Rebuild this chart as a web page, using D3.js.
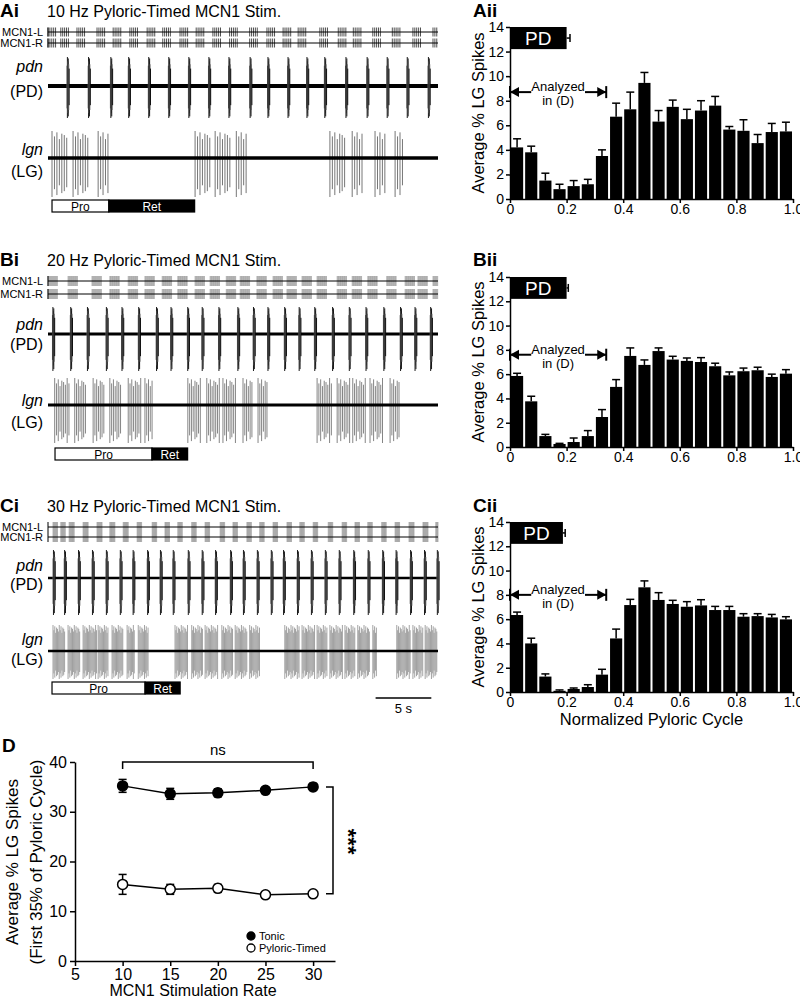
<!DOCTYPE html>
<html lang="en">
<head>
<meta charset="UTF-8">
<title>Pyloric-timed MCN1 stimulation</title>
<script src="https://d3js.org/d3.v7.min.js"></script>
<style>
    body { margin: 0; background: #fff; }
    text { font-family: "Liberation Sans", Arial, sans-serif; fill: #000; }
    .panelLabel { font-size: 19px; font-weight: bold; }
    .title { font-size: 16px; }
    .rowLabel { font-size: 11px; text-anchor: end; }
    .traceLabel { font-size: 16px; text-anchor: end; }
    .axis text { font-size: 16px; font-family: "Liberation Sans", Arial, sans-serif; }
    .hist text { font-size: 14px; }
    .axis path, .axis line { stroke: #000; stroke-width: 1.5; }
</style>
</head>
<body>
<script>
// ---------- histogram data (Aii, Bii, Cii) : 20 bins of normalized pyloric cycle ----------
const binWidth = 0.05;
const histA = [4.2, 3.8, 1.5, 0.8, 1.05, 1.2, 3.5, 6.7, 7.3, 9.45, 6.3, 7.5, 6.5, 7.2, 7.6, 5.65, 5.55, 4.55, 5.45, 5.5];
const errA  = [0.7, 0.5, 0.6, 0.4, 0.45, 0.4, 0.5, 1.1, 1.4, 0.85, 0.9, 0.55, 0.8, 0.8, 0.75, 0.25, 0.9, 0.7, 0.7, 0.75];
const histB = [5.85, 3.76, 0.9, 0.25, 0.41, 0.9, 2.47, 4.95, 7.5, 6.76, 7.9, 7.2, 7.09, 7.0, 6.65, 5.9, 6.24, 6.32, 5.77, 6.04];
const errB  = [0.22, 0.42, 0.14, 0.05, 0.33, 0.45, 0.61, 0.6, 0.66, 0.41, 0.26, 0.27, 0.24, 0.36, 0.25, 0.28, 0.26, 0.25, 0.23, 0.33];
const histC = [6.34, 4.0, 1.27, 0.1, 0.25, 0.41, 1.43, 4.41, 7.16, 8.62, 7.58, 7.25, 7.02, 7.13, 6.75, 6.75, 6.2, 6.25, 6.14, 5.98];
const errC  = [0.24, 0.43, 0.22, 0.07, 0.08, 0.19, 0.44, 0.77, 0.47, 0.53, 0.6, 0.3, 0.42, 0.47, 0.3, 0.3, 0.25, 0.2, 0.25, 0.22];
const pdDuration = [0.2, 0.2, 0.187];
const pdError = [0.012, 0.006, 0.008];
const analyzedEnd = 0.34;
const analyzedLevel = [8.7, 7.6, 8.0];
const histYTicks = [0, 2, 4, 6, 8, 10, 12, 14];
const histXTicks = [0, 0.2, 0.4, 0.6, 0.8, 1.0];

// ---------- panel D data ----------
const rates = [10, 15, 20, 25, 30];
const tonicMean = [35.2, 33.6, 33.8, 34.3, 35.0];
const tonicErr  = [1.3, 1.1, 0.8, 0.5, 0.7];
const timedMean = [15.4, 14.4, 14.6, 13.3, 13.5];
const timedErr  = [2.0, 1.0, 0.8, 0.3, 0.3];
const dXTicks = [5, 10, 15, 20, 25, 30];
const dYTicks = [0, 10, 20, 30, 40];

// ---------- recording traces (times in s) ----------
const stimA = [0.0, 1.15, 2.6, 4.4, 5.85, 7.35, 8.9, 10.3, 11.85, 13.3, 14.8, 16.3, 18.1, 19.65, 21.1, 22.45, 24.4, 26.05, 27.4, 29.15, 30.9, 32.75, 34.55];
const stimB = [0.0, 1.8, 3.95, 5.55, 7.2, 8.7, 10.25, 11.65, 13.2, 14.55, 16.0, 17.25, 18.75, 20.2, 21.45, 22.8, 24.15, 25.95, 27.3, 28.7, 30.4, 32.05, 33.2, 34.55];
const stimC = [0.45, 1.15, 1.9, 3.15, 4.4, 5.55, 6.75, 8.0, 9.35, 10.5, 11.65, 12.9, 14.1, 15.45, 16.6, 17.85, 19.0, 20.2, 21.45, 22.6, 23.8, 25.15, 26.4, 27.55, 28.7, 29.95, 31.15, 32.4, 33.65, 34.8];
const pdnA = [1.7, 3.6, 5.6, 7.2, 9.0, 10.8, 12.6, 14.4, 16.2, 18.1, 19.7, 21.5, 23.2, 24.8, 26.7, 28.6, 30.4, 32.2, 34.1];
const pdnB = [0.4, 2.0, 3.5, 5.2, 6.6, 8.1, 9.7, 11.0, 12.5, 13.8, 15.3, 17.0, 18.4, 19.7, 21.2, 22.5, 23.9, 25.5, 27.0, 28.5, 30.1, 31.6, 32.9, 34.3];
const pdnC = [0.45, 1.45, 2.7, 3.95, 5.2, 6.45, 7.6, 8.9, 10.05, 11.2, 12.55, 13.8, 15.0, 16.35, 17.5, 18.75, 20.0, 21.1, 22.35, 23.6, 24.85, 26.1, 27.4, 28.7, 30.0, 31.2, 32.5, 33.75, 34.9];
const lgA = [[0.36, 1.8], [2.25, 3.6], [4.5, 5.55], [13.2, 14.55], [15.0, 16.35], [16.9, 17.95], [25.3, 26.65], [27.3, 28.3], [29.35, 30.25], [31.15, 31.85]];
const lgB = [[0.6, 2.0], [2.4, 3.5], [4.05, 5.1], [5.55, 6.65], [7.2, 8.45], [8.7, 9.35], [12.55, 13.8], [14.25, 15.45], [15.7, 16.95], [17.5, 18.3], [18.85, 19.75],
             [24.15, 25.5], [25.95, 27.1], [27.35, 28.6], [28.9, 30.05], [30.7, 31.6]];
const lgC = [[0.45, 1.5], [1.8, 2.85], [3.15, 4.4], [4.5, 5.4], [5.75, 6.75], [7.1, 7.8], [8.1, 9.0], [11.4, 12.55], [12.9, 13.9], [14.1, 15.25], [15.6, 16.6], [16.8, 17.85], [18.1, 19.0],
             [21.25, 22.6], [22.8, 23.95], [24.15, 25.1], [25.3, 26.45], [26.65, 27.55], [27.8, 28.9], [29.15, 29.5], [31.3, 32.5], [32.75, 33.65], [33.85, 34.9]];
const pdnSpikeAmp = [0.7, 1.0, 0.85, 0.95, 0.75, 0.6];
const lgSpikeAmp = [1.0, 0.8, 0.95, 0.7, 0.9, 0.85, 0.75];
const proRetA = [0.36, 5.1, 7.7];   // start, Pro duration, Ret duration
const proRetB = [0.63, 8.7, 3.2];
const proRetC = [0.36, 8.35, 3.15];

const width = 800;
const height = 1001;

const svg = d3.select("body").append("svg")
    .attr("width", width)
    .attr("height", height);

const tx = d3.scaleLinear().domain([0, 35]).range([48, 438]);

function traceLabel(y1, y2, top, bottom) {
    svg.append("text").attr("x", 43).attr("y", y1).attr("class", "traceLabel")
        .style("font-style", "italic").text(top);
    svg.append("text").attr("x", 43).attr("y", y2).attr("class", "traceLabel").text(bottom);
}

function drawTraces(p) {
    svg.append("text").attr("x", 0).attr("y", p.titleY).attr("class", "panelLabel").text(p.label);
    svg.append("text").attr("x", 47).attr("y", p.titleY).attr("class", "title").text(p.title);

    // MCN1 stimulation rows
    [["MCN1-L", p.mcnL], ["MCN1-R", p.mcnR]].forEach(([name, y]) => {
        svg.append("text").attr("x", 43).attr("y", y + 4).attr("class", "rowLabel").text(name);
        const g = svg.append("g");
        p.stim.forEach(t0 => {
            for (let t = t0; t < t0 + p.stimDur && t <= 35; t += p.stimStep) {
                g.append("line")
                    .attr("x1", tx(t)).attr("x2", tx(t))
                    .attr("y1", y - p.tick).attr("y2", y + p.tick)
                    .attr("stroke", p.stimColor).attr("stroke-width", p.stimWidth);
            }
        });
        svg.append("line").attr("x1", tx(0)).attr("x2", tx(35))
            .attr("y1", y).attr("y2", y).attr("stroke", "#000").attr("stroke-width", 1);
        svg.append("line").attr("x1", tx(0)).attr("x2", tx(0))
            .attr("y1", y - p.tick).attr("y2", y + p.tick).attr("stroke", "#000").attr("stroke-width", 1);
    });

    // pdn trace
    svg.append("line").attr("x1", tx(0)).attr("x2", tx(35))
        .attr("y1", p.pdnY).attr("y2", p.pdnY).attr("stroke", "#000").attr("stroke-width", p.pdnBase);
    const pg = svg.append("g");
    p.pdn.forEach(t0 => {
        pdnSpikeAmp.forEach((a, k) => {
            const x = tx(t0 + k * 0.04);
            pg.append("line").attr("x1", x).attr("x2", x)
                .attr("y1", p.pdnY - p.pdnUp * a).attr("y2", p.pdnY + p.pdnDown * a)
                .attr("stroke", k % 2 ? "#000" : "#666").attr("stroke-width", 0.9);
        });
    });
    traceLabel(p.pdnLab[0], p.pdnLab[1], "pdn", "(PD)");

    // lgn trace
    const lg = svg.append("g");
    p.lg.forEach(([s, e]) => {
        let k = 0;
        for (let t = s; t <= e; t += p.lgStep, k++) {
            const a = lgSpikeAmp[k % lgSpikeAmp.length];
            lg.append("line").attr("x1", tx(t)).attr("x2", tx(t))
                .attr("y1", p.lgnY - p.lgUp * a).attr("y2", p.lgnY + p.lgDown * a)
                .attr("stroke", p.lgColor).attr("stroke-width", 0.9);
        }
    });
    svg.append("line").attr("x1", tx(0)).attr("x2", tx(35))
        .attr("y1", p.lgnY).attr("y2", p.lgnY).attr("stroke", "#000").attr("stroke-width", p.lgBase);
    traceLabel(p.lgLab[0], p.lgLab[1], "lgn", "(LG)");

    // Pro / Ret bar
    const [start, pro, ret] = p.proRet;
    svg.append("rect").attr("x", tx(start)).attr("y", p.barY).attr("width", tx(pro) - tx(0)).attr("height", 12)
        .attr("fill", "#fff").attr("stroke", "#000").attr("stroke-width", 1.2);
    svg.append("rect").attr("x", tx(start + pro)).attr("y", p.barY).attr("width", tx(ret) - tx(0)).attr("height", 12)
        .attr("fill", "#000").attr("stroke", "#000").attr("stroke-width", 1.2);
    svg.append("text").attr("x", tx(start + pro / 2)).attr("y", p.barY + 10.5)
        .attr("text-anchor", "middle").style("font-size", "12px").text("Pro");
    svg.append("text").attr("x", tx(start + pro + ret / 2)).attr("y", p.barY + 10.5)
        .attr("text-anchor", "middle").style("font-size", "12px").style("fill", "#fff").text("Ret");
}

drawTraces({
    label: "Ai", title: "10 Hz Pyloric-Timed MCN1 Stim.", titleY: 17,
    mcnL: 32, mcnR: 43, tick: 4.5, stim: stimA, stimStep: 0.17, stimDur: 0.7, stimColor: "#222", stimWidth: 0.8,
    pdnY: 86, pdn: pdnA, pdnUp: 29, pdnDown: 32, pdnBase: 4, pdnLab: [72, 97],
    lgnY: 158, lg: lgA, lgStep: 0.22, lgUp: 27, lgDown: 39, lgColor: "#666", lgBase: 3.5, lgLab: [155, 177],
    proRet: proRetA, barY: 200
});
drawTraces({
    label: "Bi", title: "20 Hz Pyloric-Timed MCN1 Stim.", titleY: 266,
    mcnL: 281, mcnR: 294, tick: 5, stim: stimB, stimStep: 0.06, stimDur: 0.85, stimColor: "#999", stimWidth: 0.7,
    pdnY: 334, pdn: pdnB, pdnUp: 27, pdnDown: 37, pdnBase: 3, pdnLab: [330, 350],
    lgnY: 405, lg: lgB, lgStep: 0.16, lgUp: 27, lgDown: 38, lgColor: "#777", lgBase: 3, lgLab: [406, 428],
    proRet: proRetB, barY: 448
});
drawTraces({
    label: "Ci", title: "30 Hz Pyloric-Timed MCN1 Stim.", titleY: 512,
    mcnL: 527, mcnR: 537, tick: 5, stim: stimC, stimStep: 0.05, stimDur: 0.45, stimColor: "#999", stimWidth: 0.7,
    pdnY: 578, pdn: pdnC, pdnUp: 28, pdnDown: 37, pdnBase: 2.5, pdnLab: [571, 590],
    lgnY: 651, lg: lgC, lgStep: 0.08, lgUp: 26, lgDown: 28, lgColor: "#999", lgBase: 2.5, lgLab: [645, 665],
    proRet: proRetC, barY: 682
});

// scale bar
const scaleY = 698;
svg.append("line").attr("x1", tx(29.4)).attr("x2", tx(34.4)).attr("y1", scaleY).attr("y2", scaleY)
    .attr("stroke", "#000").attr("stroke-width", 1.5);
svg.append("text").attr("x", tx(31.9)).attr("y", scaleY + 15).attr("text-anchor", "middle")
    .style("font-size", "13px").text("5 s");

// ---------- histograms ----------
const hx = d3.scaleLinear().domain([0, 1]).range([510, 793]);

function drawHist(p) {
    const hy = d3.scaleLinear().domain([0, 14]).range([p.y0, p.y14]);
    svg.append("text").attr("x", 473).attr("y", p.labelY).attr("class", "panelLabel").text(p.label);
    svg.append("text")
        .attr("transform", `translate(484,${(p.y0 + p.y14) / 2}) rotate(-90)`)
        .attr("text-anchor", "middle").style("font-size", "16.5px").text("Average % LG Spikes");

    const g = svg.append("g");
    p.values.forEach((v, i) => {
        const x0 = hx(i * binWidth) + 1;
        const w = hx(binWidth) - hx(0) - 2;
        g.append("rect").attr("x", x0).attr("y", hy(v)).attr("width", w).attr("height", hy(0) - hy(v)).attr("fill", "#000");
        const cx = x0 + w / 2;
        const top = hy(v + p.errs[i]);
        g.append("line").attr("x1", cx).attr("x2", cx).attr("y1", hy(v)).attr("y2", top)
            .attr("stroke", "#000").attr("stroke-width", 1.5);
        g.append("line").attr("x1", cx - 4).attr("x2", cx + 4).attr("y1", top).attr("y2", top)
            .attr("stroke", "#000").attr("stroke-width", 1.5);
    });

    svg.append("g").attr("class", "axis hist").attr("transform", `translate(${hx(0)},0)`)
        .call(d3.axisLeft(hy).tickValues(histYTicks).tickSize(4).tickSizeOuter(0).tickPadding(2));
    svg.append("g").attr("class", "axis hist").attr("transform", `translate(0,${hy(0)})`)
        .call(d3.axisBottom(hx).tickValues(histXTicks).tickFormat(d => d === 0 ? "0" : d3.format(".1f")(d)).tickSize(4).tickSizeOuter(0).tickPadding(1));

    // PD bar
    const pd = p.pd, pe = p.pdErr;
    svg.append("rect").attr("x", hx(0)).attr("y", hy(14)).attr("width", hx(pd) - hx(0)).attr("height", hy(12.2) - hy(14)).attr("fill", "#000");
    svg.append("text").attr("x", hx(pd / 2)).attr("y", hy(13.1) + 7).attr("text-anchor", "middle")
        .style("font-size", "19px").style("fill", "#fff").text("PD");
    const my = hy(13.1);
    svg.append("line").attr("x1", hx(pd)).attr("x2", hx(pd + pe)).attr("y1", my).attr("y2", my).attr("stroke", "#000").attr("stroke-width", 1.5);
    svg.append("line").attr("x1", hx(pd + pe)).attr("x2", hx(pd + pe)).attr("y1", my - 4).attr("y2", my + 4).attr("stroke", "#000").attr("stroke-width", 1.5);

    // analyzed arrow
    const ay = hy(p.arrow);
    const seg = [[0, 0.075], [0.265, analyzedEnd]];
    seg.forEach(([a, b]) => svg.append("line").attr("x1", hx(a)).attr("x2", hx(b)).attr("y1", ay).attr("y2", ay)
        .attr("stroke", "#000").attr("stroke-width", 2));
    [[0, 1], [analyzedEnd, -1]].forEach(([v, dir]) => {
        const x = hx(v);
        svg.append("path").attr("d", `M${x},${ay} L${x + dir * 9},${ay - 5} L${x + dir * 9},${ay + 5} Z`).attr("fill", "#000");
        svg.append("line").attr("x1", x).attr("x2", x).attr("y1", ay - 6).attr("y2", ay + 6).attr("stroke", "#000").attr("stroke-width", 2);
    });
    svg.append("text").attr("x", hx(0.17)).attr("y", ay - 1).attr("text-anchor", "middle").style("font-size", "13px").text("Analyzed");
    svg.append("text").attr("x", hx(0.17)).attr("y", ay + 13).attr("text-anchor", "middle").style("font-size", "13px").text("in (D)");
}

drawHist({ label: "Aii", labelY: 17, y0: 199, y14: 27, values: histA, errs: errA, pd: pdDuration[0], pdErr: pdError[0], arrow: analyzedLevel[0] });
drawHist({ label: "Bii", labelY: 266, y0: 447, y14: 277, values: histB, errs: errB, pd: pdDuration[1], pdErr: pdError[1], arrow: analyzedLevel[1] });
drawHist({ label: "Cii", labelY: 512, y0: 692, y14: 522, values: histC, errs: errC, pd: pdDuration[2], pdErr: pdError[2], arrow: analyzedLevel[2] });

svg.append("text").attr("x", hx(0.5)).attr("y", 725).attr("text-anchor", "middle").style("font-size", "16.5px").text("Normalized Pyloric Cycle");

// ---------- panel D ----------
const dx = d3.scaleLinear().domain([5, 32.3]).range([75, 335]);
const dy = d3.scaleLinear().domain([0, 40]).range([961, 762]);

svg.append("text").attr("x", 2).attr("y", 752).attr("class", "panelLabel").text("D");

svg.append("g").attr("class", "axis").attr("transform", `translate(${dx(5)},0)`)
    .call(d3.axisLeft(dy).tickValues(dYTicks).tickSize(5).tickSizeOuter(0).tickPadding(3));
svg.append("g").attr("class", "axis").attr("transform", `translate(0,${dy(0)})`)
    .call(d3.axisBottom(dx).tickValues(dXTicks).tickSize(5).tickSizeOuter(0).tickPadding(3));

svg.append("text").attr("transform", "translate(18,862) rotate(-90)").attr("text-anchor", "middle")
    .style("font-size", "17px").text("Average % LG Spikes");
svg.append("text").attr("transform", "translate(42,862) rotate(-90)").attr("text-anchor", "middle")
    .style("font-size", "17px").text("(First 35% of Pyloric Cycle)");
svg.append("text").attr("x", 193).attr("y", 996).attr("text-anchor", "middle")
    .style("font-size", "16px").text("MCN1 Stimulation Rate");

function drawSeries(means, errs, filled) {
    const line = d3.line().x((d, i) => dx(rates[i])).y(d => dy(d));
    svg.append("path").attr("d", line(means)).attr("fill", "none").attr("stroke", "#000").attr("stroke-width", 1.5);
    means.forEach((m, i) => {
        const x = dx(rates[i]);
        const hi = m + errs[i], lo = m - errs[i];
        svg.append("line").attr("x1", x).attr("x2", x).attr("y1", dy(hi)).attr("y2", dy(lo)).attr("stroke", "#000").attr("stroke-width", 1.5);
        [hi, lo].forEach(v => svg.append("line").attr("x1", x - 4).attr("x2", x + 4).attr("y1", dy(v)).attr("y2", dy(v))
            .attr("stroke", "#000").attr("stroke-width", 1.5));
        svg.append("circle").attr("cx", x).attr("cy", dy(m)).attr("r", 5)
            .attr("fill", filled ? "#000" : "#fff").attr("stroke", "#000").attr("stroke-width", 1.5);
    });
}
drawSeries(timedMean, timedErr, false);
drawSeries(tonicMean, tonicErr, true);

// ns bracket
const nsY = 762;
svg.append("path").attr("d", `M${dx(10)},${nsY + 7} V${nsY} H${dx(30)} V${nsY + 7}`)
    .attr("fill", "none").attr("stroke", "#000").attr("stroke-width", 1.5);
svg.append("text").attr("x", dx(20)).attr("y", nsY - 7).attr("text-anchor", "middle").style("font-size", "15px").text("ns");

// *** bracket
const bx = 333;
svg.append("path").attr("d", `M${bx - 7},${dy(tonicMean[4])} H${bx} V${dy(timedMean[4])} H${bx - 7}`)
    .attr("fill", "none").attr("stroke", "#000").attr("stroke-width", 1.5);
svg.append("text").attr("transform", `translate(${bx + 8},${dy(24)}) rotate(90)`).attr("text-anchor", "middle")
    .style("font-size", "22px").style("font-weight", "bold").text("***");

// legend
[["Tonic", true, 936], ["Pyloric-Timed", false, 948]].forEach(([name, filled, y]) => {
    svg.append("circle").attr("cx", 251).attr("cy", y).attr("r", 4)
        .attr("fill", filled ? "#000" : "#fff").attr("stroke", "#000").attr("stroke-width", 1.3);
    svg.append("text").attr("x", 259).attr("y", y + 4).style("font-size", "11px").text(name);
});
</script>
</body>
</html>
